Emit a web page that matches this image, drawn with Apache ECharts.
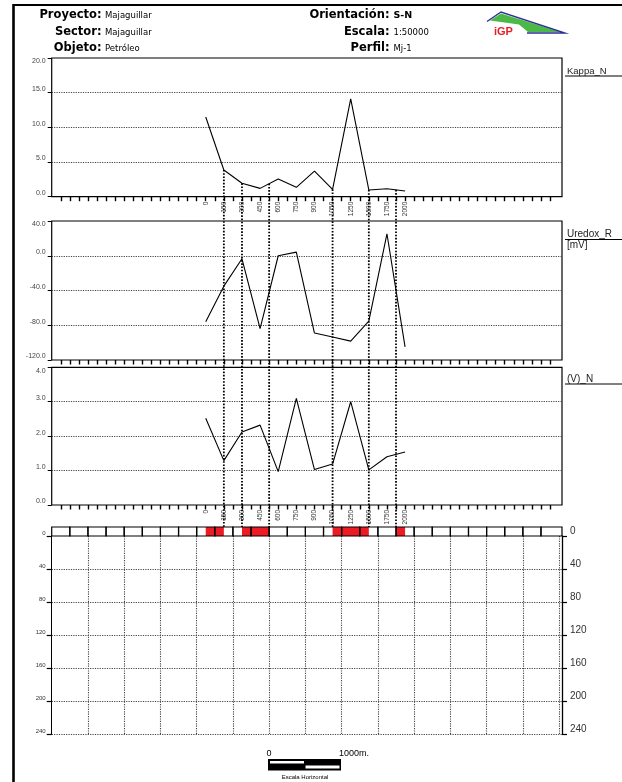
<!DOCTYPE html>
<html><head><meta charset="utf-8">
<script src="https://cdn.jsdelivr.net/npm/echarts@6/dist/echarts.min.js"></script>
<style>html,body{margin:0;padding:0;background:#fff}#c{width:622px;height:782px}</style>
</head><body><div id="c"></div>
<script>
// ---------------- data ----------------
const stations = ["0","150","300","450","600","750","900","1050","1250","1500","1750","2000"];
const kappaN  = [11.5, 3.85, 1.93, 1.2, 2.55, 1.35, 3.68, 1.07, 14.1, 0.97, 1.15, 0.82];
const uredoxR = [-76, -35, -3.5, -84, 0, 4.2, -89, -93.5, -98.3, -75.3, 25.3, -104.8];
const vN      = [2.52, 1.29, 2.12, 2.32, 0.97, 3.1, 1.03, 1.19, 3.0, 1.02, 1.40, 1.54];
const anomalies = [1, 2, 3.5, 7, 9, 10.5];          // station-index positions of the dotted markers
const redZones  = [[0, 1], [2, 3.5], [7, 9], [10.5, 11]];
const depthLabels = [0, 40, 80, 120, 160, 200, 240];

// ---------------- layout ----------------
const L = 51.7, W = 510.3;
const X_MIN = -8.5, X_MAX = 19.66;
const P1 = {top: 58, h: 138.7}, P2 = {top: 221, h: 139}, P3 = {top: 367.3, h: 137.7};
const STRIP = {top: 527, h: 9}, DEPTH = {top: 536, h: 198.3};
const K_MIN = 0, K_MAX = 20;
const OV_MIN = K_MAX - (STRIP.top - P1.top) * (K_MAX - K_MIN) / P1.h;

const FONT = '"Liberation Sans", Arial, sans-serif';
const tickVals = []; for (let v = -8; v <= 19.001; v += 0.5) tickVals.push(v);
const labelVals = stations.map((s, i) => i);
const cellEdges = [X_MIN]; for (let v = -7.5; v <= 18.5; v += 1) cellEdges.push(v); cellEdges.push(X_MAX);
const cells = []; for (let i = 0; i < cellEdges.length - 1; i++) cells.push([cellEdges[i], cellEdges[i + 1]]);

function kappaAt(x) {
  const i = Math.min(Math.floor(x), kappaN.length - 2), f = x - i;
  return kappaN[i] + (kappaN[i + 1] - kappaN[i]) * f;
}

const dotted = {type: [1.2, 1.2], color: '#444', width: 1.1};

function grid(p) { return {left: L, width: W, top: p.top, height: p.h, show: true, borderColor: '#000', borderWidth: 1.2, backgroundColor: 'transparent'}; }
function plotX(gi, withLabels) {
  return {type: 'value', gridIndex: gi, min: X_MIN, max: X_MAX, position: 'bottom',
    axisLine: {show: false, onZero: false}, splitLine: {show: false},
    axisTick: {show: true, customValues: tickVals, length: 4.5, lineStyle: {color: '#000', width: 1.4}},
    axisLabel: withLabels ? {show: true, customValues: labelVals, formatter: v => stations[Math.round(v)],
      rotate: 90, fontSize: 6.5, color: '#333', margin: 5, fontFamily: FONT} : {show: false}};
}
function plotY(gi, min, max, interval) {
  return {type: 'value', gridIndex: gi, min, max, interval, position: 'left',
    axisLine: {show: false, onZero: false},
    axisTick: {show: true, length: 4, lineStyle: {color: '#000', width: 1}},
    axisLabel: {formatter: v => v.toFixed(1), fontSize: 7, color: '#444', margin: 6, fontFamily: FONT,
      verticalAlign: 'bottom', verticalAlignMaxLabel: 'top'},
    splitLine: {show: true, showMinLine: false, showMaxLine: false, lineStyle: dotted}};
}
function curve(data, gi) {
  return {type: 'line', xAxisIndex: gi, yAxisIndex: gi, data: data.map((v, i) => [i, v]),
    symbol: 'none', silent: true, lineStyle: {color: '#000', width: 1.1}, z: 3};
}
function txt(x, y, text, size, opts) {
  return Object.assign({type: 'text', x, y, silent: true,
    style: Object.assign({text, fontSize: size, fontFamily: '"DejaVu Sans", sans-serif', fill: '#000',
      verticalAlign: 'middle', align: 'left'}, (opts || {}).style || {})}, (opts || {}).el || {});
}

const option = {
  animation: false,
  backgroundColor: '#fff',
  grid: [grid(P1), grid(P2), grid(P3),
    {left: L, width: W, top: STRIP.top, height: STRIP.h, show: false},
    {left: L, width: W, top: DEPTH.top, height: DEPTH.h, show: false},
    {left: L, width: W, top: P1.top, height: STRIP.top - P1.top, show: false}],
  xAxis: [plotX(0, true), plotX(1, false), plotX(2, true),
    {type: 'value', gridIndex: 3, min: X_MIN, max: X_MAX, show: false, axisLine: {onZero: false}},
    {type: 'value', gridIndex: 4, min: X_MIN, max: X_MAX, interval: 2, position: 'top',
      axisLine: {show: false, onZero: false}, axisTick: {show: false}, axisLabel: {show: false},
      splitLine: {show: true, showMinLine: false, showMaxLine: false, lineStyle: dotted}},
    {type: 'value', gridIndex: 5, min: X_MIN, max: X_MAX, show: false, axisLine: {onZero: false}}],
  yAxis: [plotY(0, 0, 20, 5), plotY(1, -120, 40, 40), plotY(2, 0, 4, 1),
    {type: 'value', gridIndex: 3, min: 0, max: 1, show: false, axisLine: {onZero: false}},
    {type: 'value', gridIndex: 4, min: 0, max: 240, interval: 40, inverse: true, position: 'left',
      axisLine: {show: true, onZero: false, lineStyle: {color: '#000', width: 1}},
      axisTick: {show: true, length: 5, lineStyle: {color: '#000', width: 1.2}},
      axisLabel: {fontSize: 6, color: '#333', margin: 6, verticalAlign: 'bottom', fontFamily: FONT},
      splitLine: {show: true, showMinLine: false, lineStyle: dotted}},
    {type: 'value', gridIndex: 4, min: 0, max: 240, interval: 40, inverse: true, position: 'right',
      axisLine: {show: true, onZero: false, lineStyle: {color: '#000', width: 1.3}},
      axisTick: {show: true, length: 5, lineStyle: {color: '#000', width: 1.2}},
      axisLabel: {fontSize: 10, color: '#333', margin: 8, verticalAlign: 'bottom', fontFamily: FONT},
      splitLine: {show: false}},
    {type: 'value', gridIndex: 5, min: OV_MIN, max: K_MAX, show: false, axisLine: {onZero: false}}],
  series: [
    curve(kappaN, 0), curve(uredoxR, 1), curve(vN, 2),
    {type: 'custom', xAxisIndex: 3, yAxisIndex: 3, data: redZones, silent: true, z: 2,
      renderItem: (p, api) => {
        const a = api.coord([api.value(0), 1]), b = api.coord([api.value(1), 0]);
        return {type: 'rect', shape: {x: a[0], y: a[1], width: b[0] - a[0], height: b[1] - a[1]},
          style: {fill: '#ed1c24', stroke: null}};
      }},
    {type: 'custom', xAxisIndex: 3, yAxisIndex: 3, data: cells, silent: true, z: 4,
      renderItem: (p, api) => {
        const a = api.coord([api.value(0), 1]), b = api.coord([api.value(1), 0]);
        return {type: 'rect', shape: {x: a[0], y: a[1], width: b[0] - a[0], height: b[1] - a[1]},
          style: {fill: null, stroke: '#000', lineWidth: 1.2}};
      }},
    {type: 'custom', xAxisIndex: 5, yAxisIndex: 6, data: anomalies.map(x => [x, kappaAt(x)]), silent: true, z: 10,
      renderItem: (p, api) => {
        const a = api.coord([api.value(0), api.value(1)]), b = api.coord([api.value(0), OV_MIN]);
        return {type: 'line', shape: {x1: a[0], y1: a[1], x2: b[0], y2: b[1]},
          style: {stroke: '#000', lineWidth: 1.8, lineDash: [1.6, 1.6]}};
      }},
    {type: 'line', xAxisIndex: 4, yAxisIndex: 4, data: [], silent: true},
    {type: 'line', xAxisIndex: 4, yAxisIndex: 5, data: [], silent: true}
  ],
  graphic: [
    // page frame
    {type: 'line', shape: {x1: 13.5, y1: 5, x2: 622, y2: 5}, style: {stroke: '#000', lineWidth: 2}, silent: true},
    {type: 'line', shape: {x1: 13.5, y1: 4, x2: 13.5, y2: 782}, style: {stroke: '#000', lineWidth: 2.6}, silent: true},
    // header
    txt(101.5, 15, 'Proyecto:', 11.5, {style: {fontWeight: 'bold', align: 'right'}}),
    txt(105, 16, 'Majaguillar', 8.5),
    txt(101.5, 32, 'Sector:', 11.5, {style: {fontWeight: 'bold', align: 'right'}}),
    txt(105, 33, 'Majaguillar', 8.5),
    txt(101.5, 47.7, 'Objeto:', 11.5, {style: {fontWeight: 'bold', align: 'right'}}),
    txt(105, 48.7, 'Petróleo', 8.5),
    txt(389.5, 15, 'Orientación:', 11.5, {style: {fontWeight: 'bold', align: 'right'}}),
    txt(393.5, 16, 'S-N', 9.5, {style: {fontWeight: 'bold'}}),
    txt(389.5, 32, 'Escala:', 11.5, {style: {fontWeight: 'bold', align: 'right'}}),
    txt(393.5, 33, '1:50000', 8.5),
    txt(389.5, 47.7, 'Perfil:', 11.5, {style: {fontWeight: 'bold', align: 'right'}}),
    txt(393.5, 48.7, 'Mj-1', 8.5),
    // logo
    {type: 'polygon', shape: {points: [[490, 20.5], [501, 13.5], [561, 32], [528, 32], [519, 24.5]]},
      style: {fill: '#4cb848', stroke: null}, silent: true},
    {type: 'polyline', shape: {points: [[487, 21.5], [501, 12], [565, 33], [527, 33]]},
      style: {stroke: '#2e3192', lineWidth: 1.4, fill: null}, silent: true},
    {type: 'text', x: 494, y: 31.5, silent: true,
      style: {text: 'iGP', fontSize: 11, fontWeight: 'bold', fontFamily: FONT, fill: '#e31e24', verticalAlign: 'middle'}},
    // right-side series titles
    txt(567, 71, 'Kappa_N', 9.5, {style: {fontFamily: FONT, fill: '#222'}}),
    {type: 'line', shape: {x1: 565, y1: 76, x2: 622, y2: 76}, style: {stroke: '#000', lineWidth: 1}, silent: true},
    txt(567, 234.3, 'Uredox_R', 10, {style: {fontFamily: FONT, fill: '#222'}}),
    {type: 'line', shape: {x1: 565, y1: 239.5, x2: 622, y2: 239.5}, style: {stroke: '#000', lineWidth: 1}, silent: true},
    txt(567, 245.5, '[mV]', 10, {style: {fontFamily: FONT, fill: '#222'}}),
    txt(567, 379, '(V)_N', 10, {style: {fontFamily: FONT, fill: '#222'}}),
    {type: 'line', shape: {x1: 565, y1: 384, x2: 622, y2: 384}, style: {stroke: '#000', lineWidth: 1}, silent: true},
    // horizontal scale bar
    txt(266.5, 754, '0', 9, {style: {fontFamily: FONT}}),
    txt(339, 754, '1000m.', 9, {style: {fontFamily: FONT}}),
    {type: 'rect', shape: {x: 268, y: 759, width: 73, height: 11.5}, style: {fill: '#000'}, silent: true},
    {type: 'rect', shape: {x: 270, y: 761, width: 34, height: 2.6}, style: {fill: '#fff'}, silent: true},
    {type: 'rect', shape: {x: 305.5, y: 765.6, width: 34, height: 3}, style: {fill: '#fff'}, silent: true},
    txt(305, 777.5, 'Escala Horizontal', 6, {style: {fontFamily: FONT, align: 'center'}})
  ]
};

const chart = echarts.init(document.getElementById('c'), null, {renderer: 'canvas'});
chart.setOption(option);
</script>
</body></html>
